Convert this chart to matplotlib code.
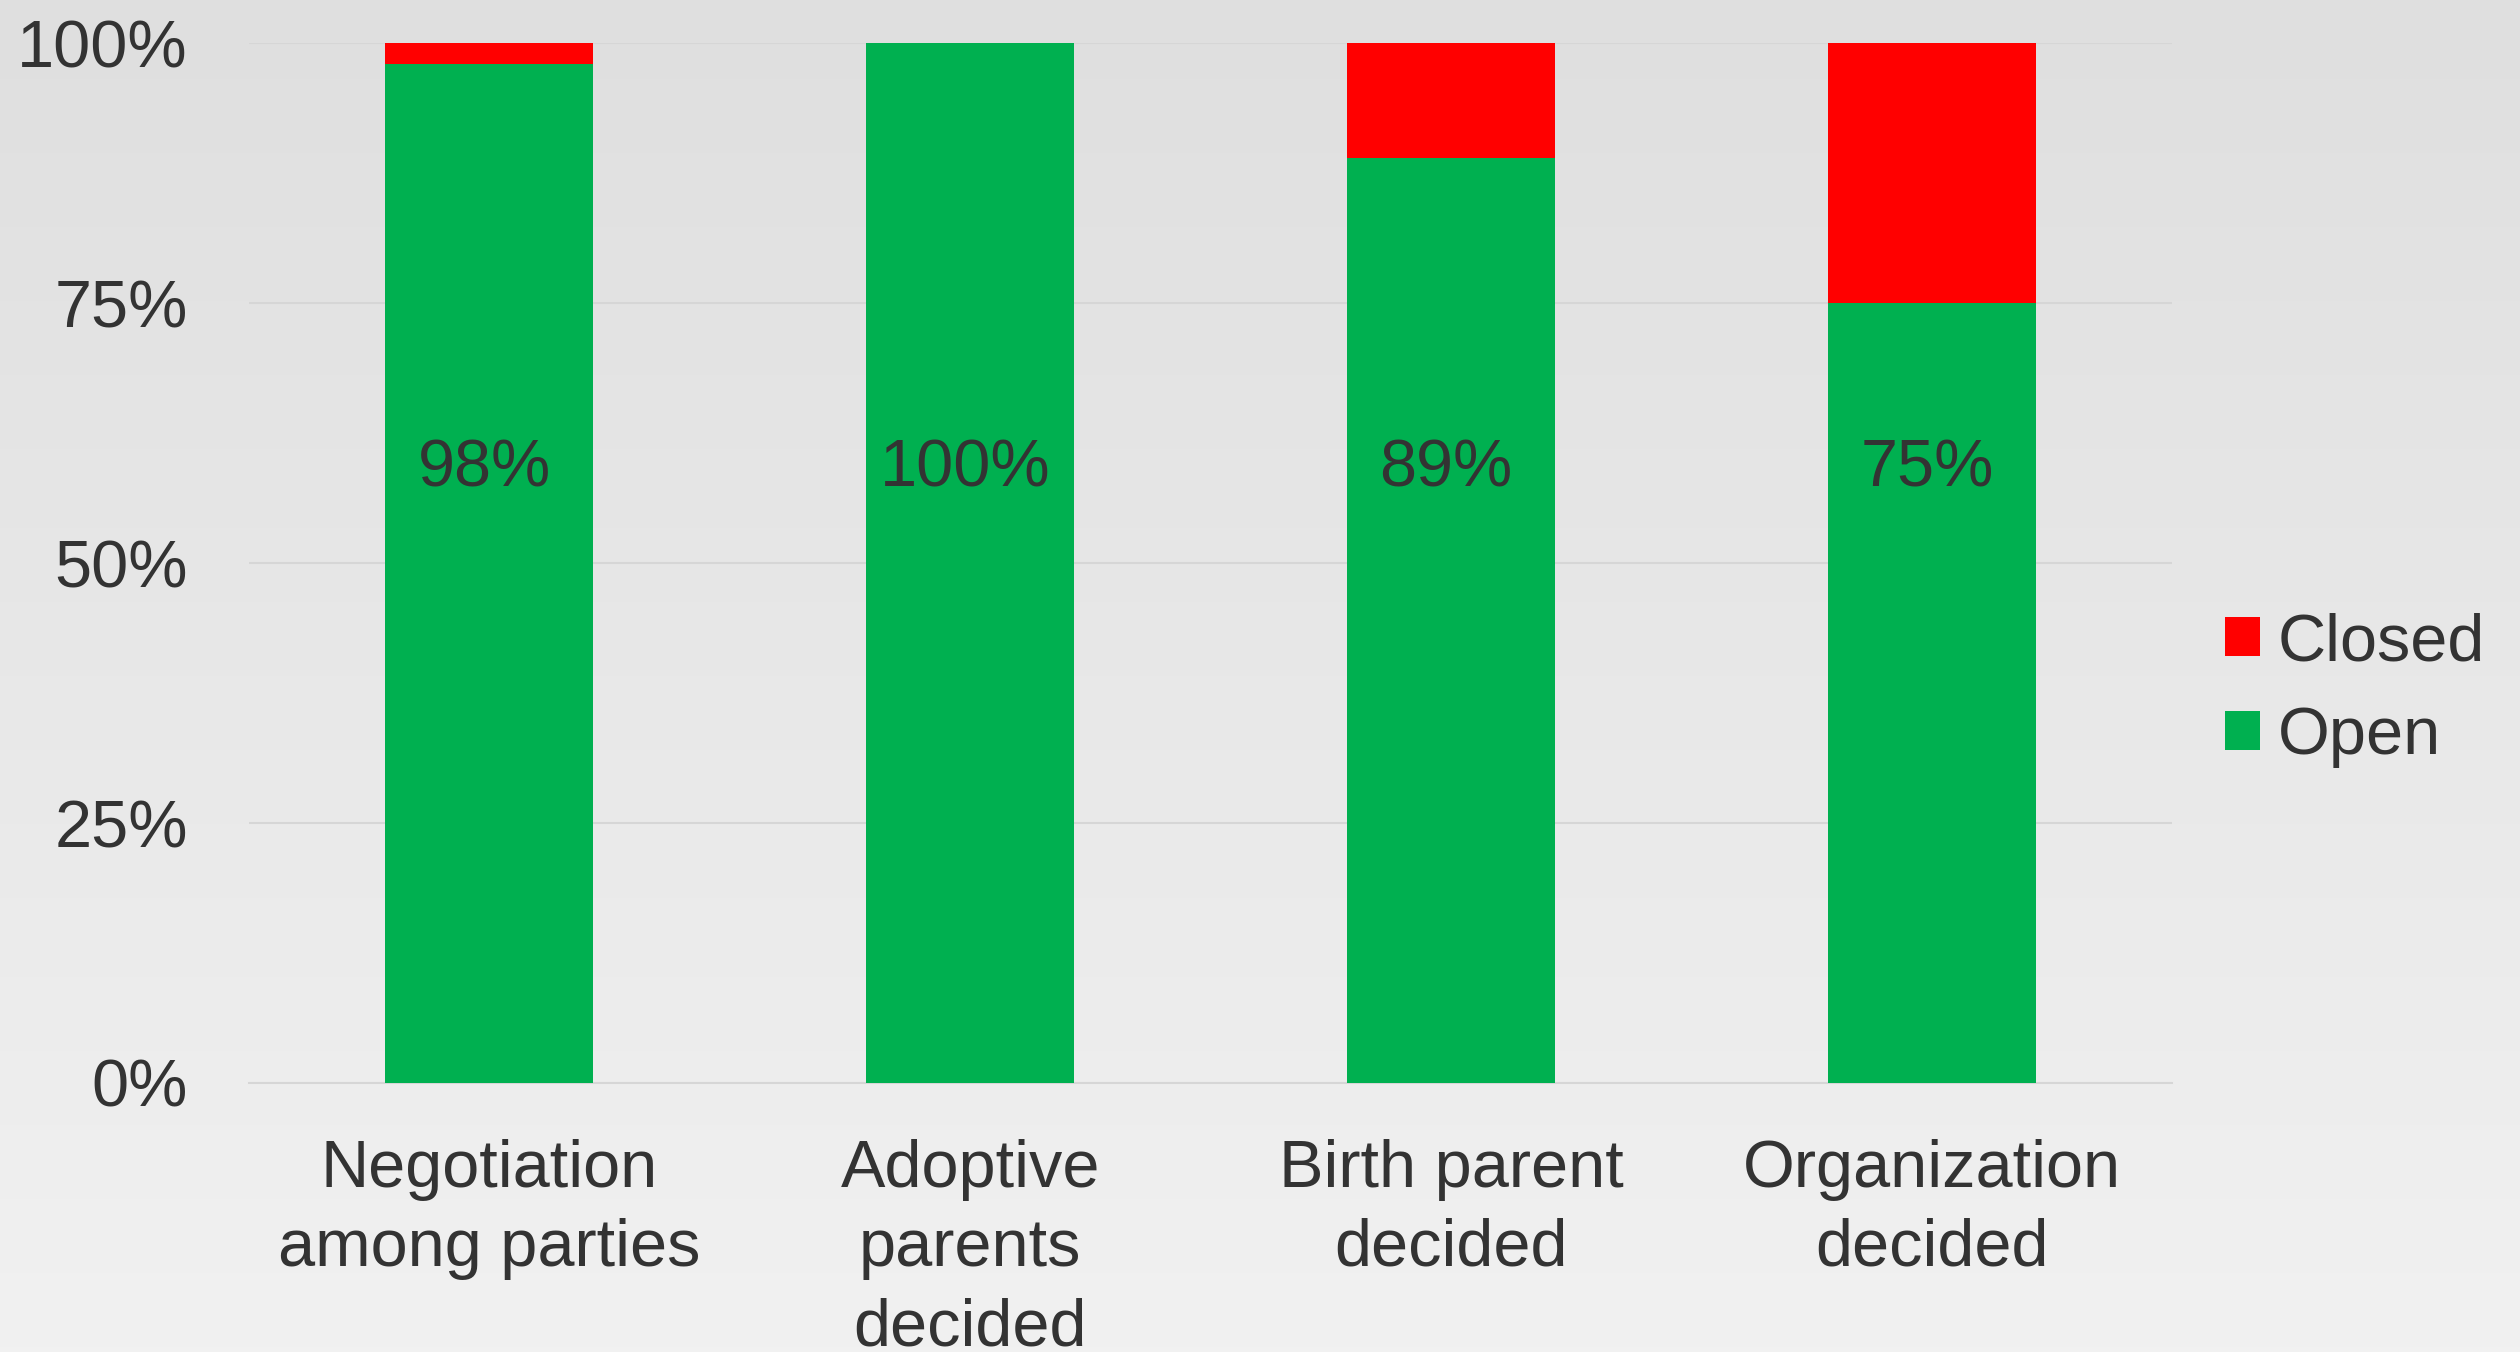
import numpy as np
import matplotlib
matplotlib.use("Agg")
import matplotlib.pyplot as plt
from matplotlib.ticker import PercentFormatter

plt.rcParams['font.family'] = ['Liberation Sans', 'DejaVu Sans']

categories = ["Negotiation\namong parties", "Adoptive\nparents\ndecided",
              "Birth parent\ndecided", "Organization\ndecided"]
open_share = [0.98, 1.00, 0.89, 0.75]
closed_share = [0.02, 0.00, 0.11, 0.25]
yticks = [0, 0.25, 0.5, 0.75, 1.0]
label_y = 0.59

green = "#00B050"
red = "#FF0000"
txt = "#333333"

fig = plt.figure(figsize=(25.2, 13.52), dpi=100)

# light grey background, a bit darker at the top
bg = fig.add_axes([0, 0, 1, 1], zorder=-10)
grad = np.linspace(0, 1, 256).reshape(-1, 1)
bg.imshow(grad, aspect="auto", cmap=matplotlib.colors.LinearSegmentedColormap.from_list(
    "bg", ["#dfdfdf", "#f1f1f1"]), extent=[0, 1, 0, 1], origin="upper")
bg.axis("off")

ax = fig.add_axes([0.0988, 0.199, 0.7632, 0.769])
ax.patch.set_alpha(0)
x = np.arange(len(categories))
w = 0.433
ax.bar(x, open_share, w, color=green, label="Open", zorder=3)
ax.bar(x, closed_share, w, bottom=open_share, color=red, label="Closed", zorder=3)

for i, v in enumerate(open_share):
    ax.text(x[i] - 0.01, label_y, f"{v:.0%}", ha="center", va="center",
            fontsize=48, color=txt, zorder=4)

ax.set_xlim(-0.5, len(categories) - 0.5)
ax.set_ylim(0, 1)
ax.set_yticks(yticks)
ax.yaxis.set_major_formatter(PercentFormatter(1.0, decimals=0))
ax.set_xticks(x)
ax.set_xticklabels(categories, fontsize=48, color=txt, linespacing=1.36)
ax.tick_params(axis="y", labelsize=48, labelcolor=txt, length=0, pad=44)
ax.tick_params(axis="x", length=0, pad=40)
ax.grid(axis="y", color="#d6d6d6", linewidth=1.5, zorder=0)
for s in ["top", "right", "left"]:
    ax.spines[s].set_visible(False)
ax.spines["bottom"].set_color("#d6d6d6")
ax.spines["bottom"].set_linewidth(1.5)

h, l = ax.get_legend_handles_labels()
fig.legend(h[::-1], l[::-1], loc="center left", bbox_to_anchor=(0.883, 0.4896),
           frameon=False, fontsize=48, handlelength=0.52, handleheight=0.52,
           handletextpad=0.27, labelspacing=0.47, borderpad=0, borderaxespad=0,
           labelcolor=txt)

fig.savefig("out.png", dpi=100)
